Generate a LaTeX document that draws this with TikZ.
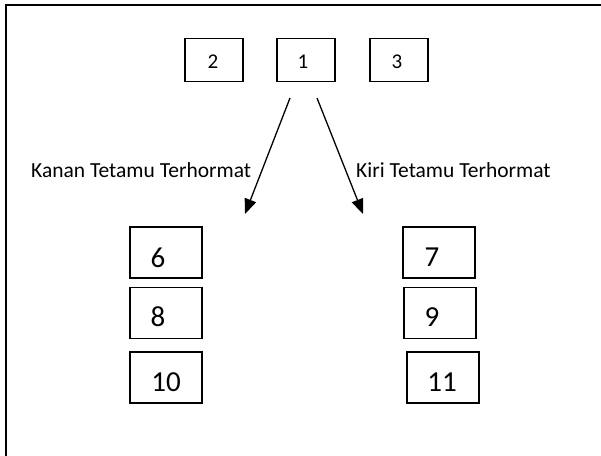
\documentclass[tikz,border=0pt]{standalone}
\usepackage{fontspec}
\setmainfont{Carlito}
\usetikzlibrary{arrows.meta}
\tikzset{
  smallbox/.style={draw=black, line width=1.2pt, rectangle, minimum width=58pt, minimum height=43pt, inner sep=0pt},
  bigbox/.style={draw=black, line width=1.2pt, rectangle, minimum width=72pt, minimum height=51pt, inner sep=0pt},
  smallnum/.style={font=\fontsize{21}{25}\selectfont, inner sep=0pt},
  bignum/.style={font=\fontsize{29}{34}\selectfont, inner sep=0pt},
  lbl/.style={font=\fontsize{21.5}{25}\selectfont, inner sep=0pt, anchor=base west},
  arr/.style={line width=1.3pt, -{Triangle[length=15pt,width=12pt]}},
  frame/.style={line width=2pt}
}
\begin{document}
\begin{tikzpicture}[x=1pt,y=-1pt]
\useasboundingbox (0,0) rectangle (601,455);
% outer frame (top and left edges)
\coordinate (fbl) at (5.5,456);
\coordinate (ftl) at (5.5,4.5);
\coordinate (ftr) at (602,4.5);
\draw[frame] (fbl) -- (ftl) -- (ftr);
% top row
\node[smallbox] (b2) at (214,60) {};
\node[smallnum] (t2) at ([xshift=-1pt,yshift=-1.5pt]b2.center) {2};
\node[smallbox] (b1) at (306,60) {};
\node[smallnum] (t1) at ([xshift=-3pt,yshift=-1.5pt]b1.center) {1};
\node[smallbox] (b3) at (399,60) {};
\node[smallnum] (t3) at ([xshift=-2pt,yshift=-1.5pt]b3.center) {3};
% left column
\node[bigbox] (b6) at (166,252.5) {};
\node[bignum] (t6) at ([xshift=-8pt,yshift=-5pt]b6.center) {6};
\node[bigbox] (b8) at (166,313) {};
\node[bignum] (t8) at ([xshift=-8pt,yshift=-4pt]b8.center) {8};
\node[bigbox] (b10) at (166,377.5) {};
\node[bignum] (t10) at ([xshift=0pt,yshift=-4.5pt]b10.center) {10};
% right column
\node[bigbox] (b7) at (439,252.5) {};
\node[bignum] (t7) at ([xshift=-7pt,yshift=-5pt]b7.center) {7};
\node[bigbox] (b9) at (440,313) {};
\node[bignum] (t9) at ([xshift=-8pt,yshift=-4pt]b9.center) {9};
\node[bigbox] (b11) at (443,377.5) {};
\node[bignum] (t11) at ([xshift=-1pt,yshift=-4.5pt]b11.center) {11};
% labels
\node[lbl] (lk) at (31,177) {Kanan Tetamu Terhormat};
\node[lbl] (rk) at (356,177) {Kiri Tetamu Terhormat};
% arrows
\coordinate (ls) at (290,98);
\coordinate (le) at (245,214);
\coordinate (rs) at (317,98);
\coordinate (re) at (363,214);
\draw[arr] (ls) -- (le);
\draw[arr] (rs) -- (re);
\end{tikzpicture}
\end{document}
